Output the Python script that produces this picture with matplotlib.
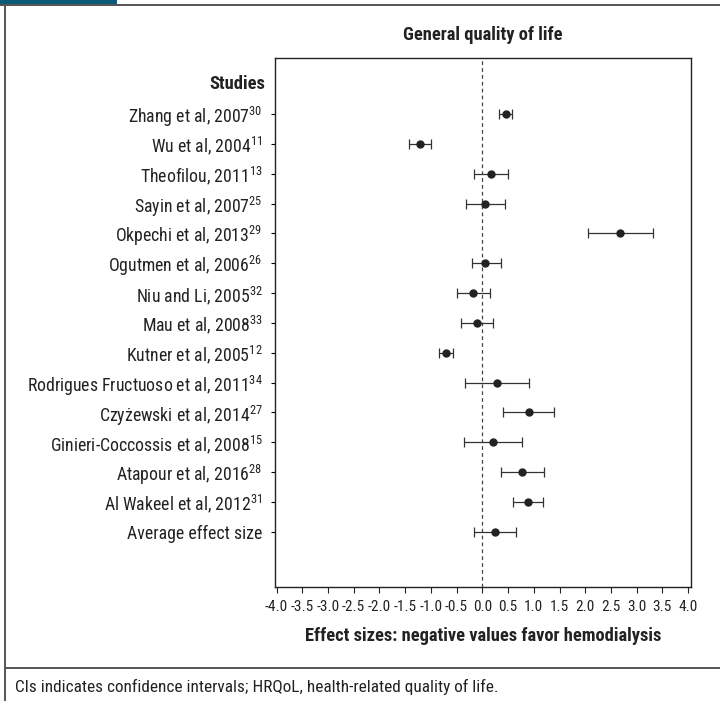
import matplotlib
matplotlib.use("Agg")
import matplotlib.pyplot as plt
from matplotlib.lines import Line2D
from matplotlib.patches import Rectangle
import matplotlib.transforms as mtransforms

NARROW = 'Roboto Condensed'
plt.rcParams['font.family'] = [NARROW, 'Archivo Narrow', 'PT Sans Narrow',
                               'DejaVu Sans']
plt.rcParams['mathtext.fontset'] = 'custom'
plt.rcParams['mathtext.rm'] = NARROW
plt.rcParams['mathtext.it'] = NARROW
plt.rcParams['mathtext.bf'] = NARROW + ':bold'

# study names and reference numbers (top to bottom)
studies = ["Zhang et al, 2007", "Wu et al, 2004", "Theofilou, 2011",
           "Sayin et al, 2007", "Okpechi et al, 2013", "Ogutmen et al, 2006",
           "Niu and Li, 2005", "Mau et al, 2008", "Kutner et al, 2005",
           "Rodrigues Fructuoso et al, 2011", "Czyżewski et al, 2014",
           "Ginieri-Coccossis et al, 2008", "Atapour et al, 2016",
           "Al Wakeel et al, 2012", "Average effect size"]
refs = ["30", "11", "13", "25", "29", "26", "32", "33", "12", "34", "27",
        "15", "28", "31", ""]

# effect sizes with lower / upper CI
effect = [0.46, -1.22, 0.16, 0.06, 2.67, 0.06, -0.19, -0.10, -0.71,
          0.28, 0.91, 0.21, 0.78, 0.89, 0.25]
ci_low = [0.33, -1.42, -0.17, -0.32, 2.06, -0.21, -0.50, -0.41, -0.85,
          -0.34, 0.41, -0.36, 0.36, 0.59, -0.16]
ci_high = [0.58, -1.00, 0.50, 0.45, 3.32, 0.36, 0.14, 0.21, -0.57,
           0.91, 1.40, 0.78, 1.20, 1.17, 0.65]

xticks = [-4.0, -3.5, -3.0, -2.5, -2.0, -1.5, -1.0, -0.5, 0.0,
          0.5, 1.0, 1.5, 2.0, 2.5, 3.0, 3.5, 4.0]

fig = plt.figure(figsize=(7.2, 7.01), dpi=100)
ax = fig.add_axes([0.382, 0.1626, 0.578, 0.7547])

ypos = list(range(len(studies)))
err_lo = [e - l for e, l in zip(effect, ci_low)]
err_hi = [h - e for e, h in zip(effect, ci_high)]
ax.errorbar(effect, ypos, xerr=[err_lo, err_hi], fmt='o', color='#222222',
            ecolor='#333333', elinewidth=0.9, capsize=3.3, capthick=0.9,
            markersize=5, zorder=3)
ax.axvline(0, color='#444444', lw=0.9, ls=(0, (3, 2.5)), zorder=1)

ax.set_xlim(-4.03, 4.06)
ax.set_ylim(len(studies) - 1 + 1.85, -1.88)
ax.set_xticks(xticks)
ax.set_xticklabels(["%.1f" % t for t in xticks], fontsize=11)
ax.set_yticks(ypos)
labels = [s + ("$^{%s}$" % r if r else "") for s, r in zip(studies, refs)]
ax.set_yticklabels(labels, fontsize=12.8, color='#222222')
ax.tick_params(axis='y', length=3, width=0.8, pad=6)
ax.tick_params(axis='x', length=4, width=0.8, pad=5, colors='#222222')
for sp in ax.spines.values():
    sp.set_linewidth(1.0)
    sp.set_color('#222222')

trans = mtransforms.blended_transform_factory(ax.transAxes, ax.transData)
ax.text(-0.023, -1, "Studies", transform=trans, ha='right', va='center',
        fontsize=13.3, fontweight='bold', color='#222222')
ax.set_title("General quality of life", fontsize=13.3, fontweight='bold',
             color='#222222', pad=13)
ax.set_xlabel("Effect sizes: negative values favor hemodialysis",
              fontsize=13.3, fontweight='bold', color='#222222', labelpad=10)

# outer panel frame
fig.add_artist(Line2D([0, 1], [0.9929, 0.9929], color='#555555', lw=1.4))
fig.add_artist(Line2D([0.0069, 0.0069], [0, 0.9929], color='#555555', lw=1.4))
fig.add_artist(Line2D([0.0069, 1], [0.047, 0.047], color='#555555', lw=1.4))
fig.add_artist(Rectangle((0, 0.9929), 117 / 720, 0.0071,
                         transform=fig.transFigure, color='#0a5a78', lw=0))
fig.text(0.021, 0.02, "CIs indicates confidence intervals; HRQoL, "
         "health-related quality of life.", fontsize=12.4, color='#222222',
         va='center')

fig.savefig("out.png", dpi=100)
